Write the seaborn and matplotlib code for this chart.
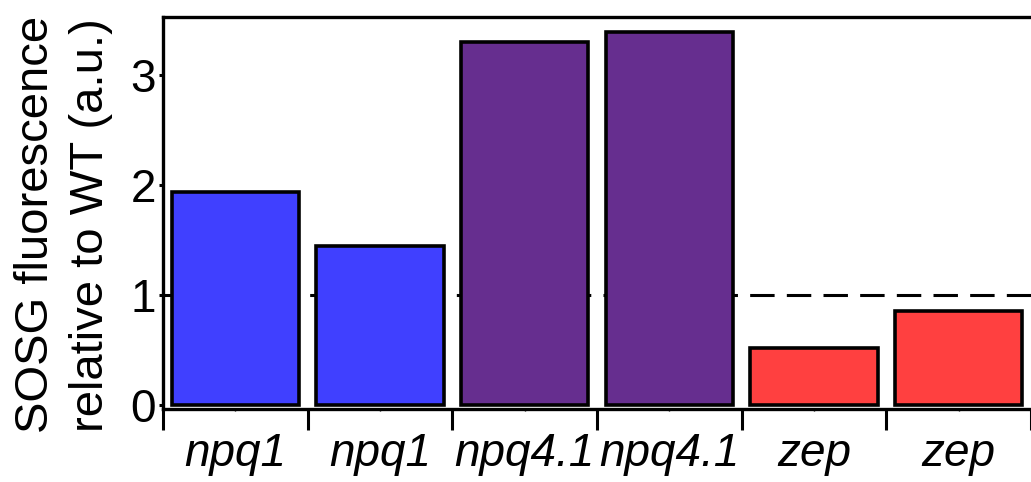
import matplotlib
matplotlib.use("Agg")
import matplotlib.pyplot as plt
from matplotlib.ticker import FixedLocator
import pandas as pd
import seaborn as sns

# data
labels = ["npq1", "npq1", "npq4.1", "npq4.1", "zep", "zep"]
values = [1.94, 1.45, 3.30, 3.39, 0.52, 0.86]
colors = ["#4040FF", "#4040FF", "#662E8F", "#662E8F", "#FF4040", "#FF4040"]
wt_level = 1.0

df = pd.DataFrame({"slot": range(len(labels)), "value": values})

sns.set_style("ticks")
plt.rcParams["font.family"] = ["Liberation Sans", "DejaVu Sans"]
plt.rcParams.update({
    "text.color": "black", "axes.labelcolor": "black", "axes.edgecolor": "black",
    "xtick.color": "black", "ytick.color": "black",
})

fig = plt.figure(figsize=(10.31, 4.82), dpi=100)
ax = fig.add_axes([0.158, 0.151, 0.842, 0.814])

sns.barplot(
    data=df, x="slot", y="value", hue="slot", palette=colors, legend=False,
    width=0.88, edgecolor="black", linewidth=2.6, saturation=1, ax=ax,
)

ax.axhline(wt_level, color="black", lw=2.2, ls=(0, (8, 4)), zorder=0.5)

ax.set_xlim(-0.5, len(labels) - 0.5)
ax.set_ylim(-0.035, 3.53)

# major ticks at slot boundaries, labels on minor ticks at bar centres
ax.xaxis.set_major_locator(FixedLocator([i - 0.5 for i in range(len(labels) + 1)]))
ax.xaxis.set_minor_locator(FixedLocator(list(range(len(labels)))))
ax.set_xticklabels([], minor=False)
ax.set_xticklabels(labels, minor=True, fontsize=33, style="italic")
ax.tick_params(axis="x", which="major", length=15, width=2.2, direction="out")
ax.tick_params(axis="x", which="minor", length=1.5, width=1, pad=15)

ax.set_yticks([0, 1, 2, 3])
ax.tick_params(axis="y", length=3, width=2.2, labelsize=33, pad=2)

ax.set_xlabel("")
ax.set_ylabel("SOSG fluorescence\nrelative to WT (a.u.)", fontsize=34, linespacing=1.3)
ax.yaxis.set_label_coords(-0.058, 0.47)

for side in ["left", "top", "bottom"]:
    ax.spines[side].set_linewidth(2.4)
ax.spines["right"].set_visible(False)

fig.savefig("out.png", dpi=100)
